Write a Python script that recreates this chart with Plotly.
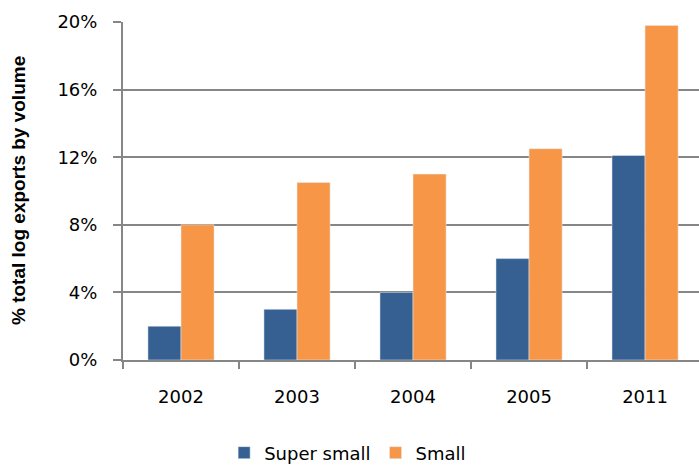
import plotly.graph_objects as go

years = ["2002", "2003", "2004", "2005", "2011"]
super_small = [2.0, 3.0, 4.0, 6.0, 12.1]
small = [8.0, 10.5, 11.0, 12.5, 19.8]
y_ticks = [0, 4, 8, 12, 16, 20]
y_tick_labels = ["0%", "4%", "8%", "12%", "16%", "20%"]

fig = go.Figure()
fig.add_trace(go.Bar(x=years, y=super_small, name="Super small", marker_color="#366092"))
fig.add_trace(go.Bar(x=years, y=small, name="Small", marker_color="#F79646"))

fnt = dict(family="DejaVu Sans", size=18, color="#000000")
fig.update_layout(
    width=699, height=465,
    margin=dict(l=123, r=0, t=22, b=105, autoexpand=False),
    plot_bgcolor="white", paper_bgcolor="white",
    barmode="group", bargap=0.43, bargroupgap=0,
    font=fnt,
    showlegend=True,
    legend=dict(orientation="h", x=0.39, xanchor="center", y=-0.275, yanchor="middle",
                font=dict(family="DejaVu Sans", size=18), itemwidth=30, tracegroupgap=0),
)
fig.update_xaxes(
    type="category", range=[-0.5, 4.465],
    showline=True, linecolor="#868686", linewidth=2,
    ticks="outside", tickson="boundaries", ticklen=7, tickcolor="#868686", tickwidth=2,
    ticklabelstandoff=19, showgrid=False, tickfont=fnt,
)
fig.update_yaxes(
    range=[0, 20], tickvals=y_ticks, ticktext=y_tick_labels,
    showline=True, linecolor="#868686", linewidth=2,
    ticks="outside", ticklen=8, tickcolor="#868686", tickwidth=2,
    showgrid=True, gridcolor="#868686", gridwidth=1.5,
    ticklabelstandoff=12, tickfont=fnt, zeroline=False,
)
fig.add_annotation(
    text="<b>% total log exports by volume</b>", textangle=-90,
    xref="paper", yref="paper", x=-105/576, y=0.5, xanchor="center", yanchor="middle",
    showarrow=False, font=dict(family="Liberation Sans", size=19, color="#000000"),
)
fig.write_html("out.html")
